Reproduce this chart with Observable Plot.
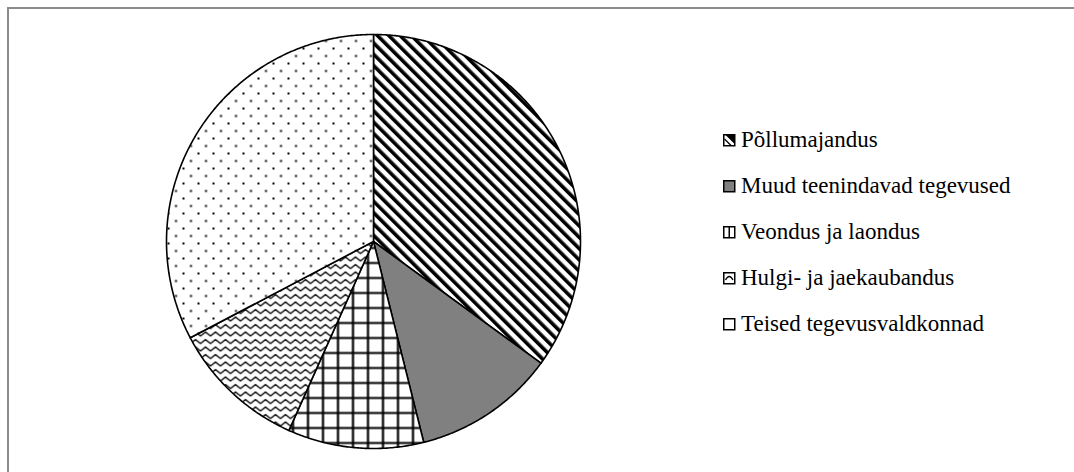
<!DOCTYPE html>
<html><head><meta charset="utf-8">
<script src="https://cdn.jsdelivr.net/npm/d3@7"></script>
<script src="https://cdn.jsdelivr.net/npm/@observablehq/plot@0.6"></script>
<style>
body{margin:0;background:#fff;}
#wrap{position:relative;width:1074px;height:472px;overflow:hidden;background:#fff;}
#frame{position:absolute;left:7px;top:7px;width:1200px;height:600px;border-top:2px solid #8c8c8c;border-left:2px solid #8c8c8c;}
#chart{position:absolute;left:0;top:0;}
#legend{position:absolute;left:0;top:0;width:1074px;height:472px;}
</style></head><body>
<div id="wrap"><div id="frame"></div><div id="chart"></div><div id="legend"></div></div>
<script>
const categories = ["Põllumajandus","Muud teenindavad tegevused","Veondus ja laondus","Hulgi- ja jaekaubandus","Teised tegevusvaldkonnad"];
const shares = [35.0, 11.1, 10.6, 10.6, 32.7];
const patternIds = ["p-diag","p-gray","p-grid","p-wave","p-dots"];

const data = categories.map((name,i)=>({name, value: shares[i]}));
const arcs = d3.pie().sort(null).value(d=>d.value)(data);
const pts = [];
for (const a of arcs) {
  pts.push({name:a.data.name, x:0, y:0});
  const n = Math.max(2, Math.ceil((a.endAngle-a.startAngle)/(Math.PI/360)));
  for (let k=0;k<=n;k++){
    const t = a.startAngle + (a.endAngle-a.startAngle)*k/n;
    pts.push({name:a.data.name, x:Math.sin(t), y:Math.cos(t)});
  }
}

const chart = Plot.plot({
  width:1074, height:472,
  marginLeft:166, marginRight:494, marginTop:34, marginBottom:24,
  x:{domain:[-1,1], axis:null},
  y:{domain:[-1,1], axis:null},
  color:{type:"ordinal", domain:categories, range:patternIds.map(id=>`url(#${id})`)},
  style:{background:"transparent"},
  marks:[
    Plot.line(pts,{x:"x",y:"y",z:"name",fill:"name",stroke:"black",strokeWidth:1.6,curve:"linear-closed",strokeLinejoin:"round"})
  ]
});
document.getElementById("chart").appendChild(chart);

const defs = d3.select(chart).insert("defs",":first-child");
const pd = defs.append("pattern").attr("id","p-diag").attr("width",8).attr("height",8)
  .attr("patternUnits","userSpaceOnUse").attr("patternTransform","rotate(-45)");
pd.append("rect").attr("width",8).attr("height",8).attr("fill","white");
pd.append("rect").attr("x",0).attr("width",3.6).attr("height",8).attr("fill","black");
const pg = defs.append("pattern").attr("id","p-gray").attr("width",8).attr("height",8).attr("patternUnits","userSpaceOnUse");
pg.append("rect").attr("width",8).attr("height",8).attr("fill","#808080");
const pgr = defs.append("pattern").attr("id","p-grid").attr("width",15).attr("height",15).attr("patternUnits","userSpaceOnUse");
pgr.append("rect").attr("width",15).attr("height",15).attr("fill","white");
pgr.append("path").attr("d","M7.5 0V15M0 7.5H15").attr("stroke","black").attr("stroke-width",2.2);
const pw = defs.append("pattern").attr("id","p-wave").attr("width",10).attr("height",7.5).attr("patternUnits","userSpaceOnUse");
pw.append("rect").attr("width",10).attr("height",7.5).attr("fill","white");
pw.append("path").attr("d","M-2.5 3.5L0 5.5L5 1.5L10 5.5L12.5 3.5").attr("fill","none").attr("stroke","black").attr("stroke-width",1.4);
const pdt = defs.append("pattern").attr("id","p-dots").attr("width",15).attr("height",15).attr("patternUnits","userSpaceOnUse");
pdt.append("rect").attr("width",15).attr("height",15).attr("fill","white");
pdt.append("rect").attr("x",2).attr("y",2).attr("width",2).attr("height",2).attr("fill","#000");
pdt.append("rect").attr("x",9.5).attr("y",9.5).attr("width",2).attr("height",2).attr("fill","#000");

// legend (HTML text + small SVG swatches)
const lg = d3.select("#legend");
const baselines = categories.map((_,i)=>147 + i*46);
categories.forEach((name,i)=>{
  const s = lg.append("svg").attr("width",13).attr("height",13)
    .style("position","absolute").style("left","723px").style("top",(baselines[i]-13.5)+"px");
  s.append("rect").attr("x",0.75).attr("y",0.75).attr("width",11).attr("height",11)
    .attr("fill", i===1 ? "#808080" : "white").attr("stroke","black").attr("stroke-width",1.5);
  if (i===0) s.append("path").attr("d","M4 1.5L11 8.5L11 1.5Z M1.5 5L8 11.5").attr("fill","black").attr("stroke","black").attr("stroke-width",1.3);
  if (i===2) s.append("path").attr("d","M6.25 1V11.5").attr("stroke","black").attr("stroke-width",1.5);
  if (i===3) s.append("path").attr("d","M2.5 8Q6.25 1 10 8").attr("fill","none").attr("stroke","black").attr("stroke-width",1.3);
  lg.append("div")
    .style("position","absolute").style("left","741px").style("top",(baselines[i]-19.3)+"px")
    .style("white-space","nowrap").style("font-family","'Liberation Serif'")
    .style("font-size","23px").style("line-height","23px").style("color","#000")
    .text(name);
});
</script>
</body></html>
